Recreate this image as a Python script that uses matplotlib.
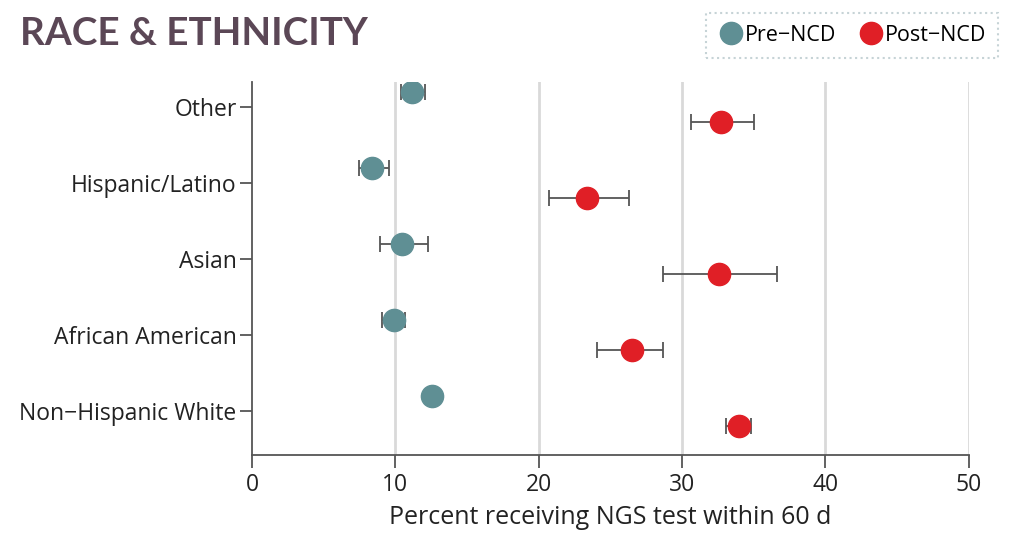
import matplotlib
matplotlib.use("Agg")
import matplotlib.pyplot as plt
from matplotlib.lines import Line2D
import numpy as np

categories = ["Non−Hispanic White", "African American", "Asian", "Hispanic/Latino", "Other"]
pre_val = [12.55, 9.9, 10.45, 8.36, 11.15]
pre_lo = [12.4, 9.1, 8.9, 7.45, 10.4]
pre_hi = [12.7, 10.7, 12.25, 9.55, 12.1]
post_val = [33.95, 26.5, 32.55, 23.35, 32.7]
post_lo = [33.05, 24.05, 28.7, 20.75, 30.65]
post_hi = [34.85, 28.7, 36.65, 26.3, 35.0]
xticks = [0, 10, 20, 30, 40, 50]

TEAL = "#5f8f94"
RED = "#e01f26"
ERR = "#555555"
FONT = ["Open Sans", "DejaVu Sans"]

plt.rcParams["font.family"] = FONT
fig = plt.figure(figsize=(10.09, 5.34), dpi=100)
ax = fig.add_axes([0.2497, 0.148, 0.7103, 0.698])

y = np.arange(len(categories))
pv = np.array(pre_val); qv = np.array(post_val)
ax.errorbar(pv, y + 0.19, xerr=[pv - np.array(pre_lo), np.array(pre_hi) - pv],
            fmt="o", color=TEAL, ecolor=ERR, elinewidth=1.3, capsize=6, capthick=1.3,
            markersize=16, zorder=3)
ax.errorbar(qv, y - 0.2, xerr=[qv - np.array(post_lo), np.array(post_hi) - qv],
            fmt="o", color=RED, ecolor=ERR, elinewidth=1.3, capsize=6, capthick=1.3,
            markersize=16, zorder=3)

ax.set_xlim(0, 50)
ax.set_ylim(-0.58, 4.32)
ax.set_xticks(xticks)
ax.set_yticks(y)
ax.set_yticklabels(categories)
for xt in xticks[1:]:
    ax.axvline(xt, color="#d9d9d9", lw=2, zorder=0)
for s in ["top", "right"]:
    ax.spines[s].set_visible(False)
for s in ["left", "bottom"]:
    ax.spines[s].set_color("#555555")
    ax.spines[s].set_linewidth(1.3)
ax.tick_params(axis="both", colors="#555555", width=1.3, length=9, labelcolor="#222222", labelsize=16.5)
ax.tick_params(axis="y", pad=2)
ax.tick_params(axis="x", pad=4)
ax.set_xlabel("Percent receiving NGS test within 60 d", fontsize=18, color="#222222", labelpad=6)

fig.text(0.02, 0.937, "RACE & ETHNICITY", fontsize=27.8, fontweight="bold", color="#5b4756",
         family=["Lato", "DejaVu Sans"], va="center", ha="left")

handles = [Line2D([], [], marker="o", ls="", color=TEAL, markersize=16, label="Pre−NCD"),
           Line2D([], [], marker="o", ls="", color=RED, markersize=16, label="Post−NCD")]
leg = fig.legend(handles=handles, loc="upper right", bbox_to_anchor=(1.0, 0.996), ncol=2,
                 frameon=True, fontsize=15.5, handletextpad=0.05, columnspacing=1.0,
                 borderpad=0.55, fancybox=False, handlelength=1.2)
fr = leg.get_frame()
fr.set_linestyle(":")
fr.set_edgecolor("#b8c8cc")
fr.set_linewidth(1.5)

fig.savefig("out.png", dpi=100)
